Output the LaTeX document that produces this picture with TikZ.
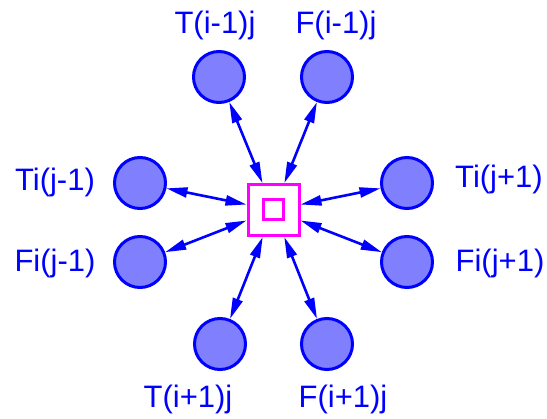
\documentclass[tikz,border=0pt]{standalone}
\usepackage{fontspec}
\setmainfont{Liberation Sans}
\usetikzlibrary{arrows.meta}
\definecolor{cblue}{HTML}{0000FF}
\definecolor{cfill}{HTML}{8080FF}
\definecolor{cmag}{HTML}{FF00FF}
\begin{document}
\begin{tikzpicture}[x=1pt,y=-1pt,
  port/.style={circle,draw=cblue,fill=cfill,line width=3pt,minimum size=51pt,inner sep=0pt},
  hub/.style={rectangle,draw=cmag,line width=3pt,minimum size=51pt,inner sep=0pt},
  hubin/.style={rectangle,draw=cmag,line width=3pt,minimum size=20pt,inner sep=0pt},
  lab/.style={text=cblue,font=\fontsize{31}{36}\selectfont,anchor=base,inner sep=0pt},
  link/.style={draw=cblue,line width=2.6pt,{Triangle[length=21pt,width=10pt]}-{Triangle[length=21pt,width=10pt]}}]
\useasboundingbox (0,0) rectangle (547,419);
\node[hub] (c) at (273.5,210) {};
\node[hubin] (ci) at (273.5,210) {};
\node[port] (tu) at (219,77) {};
\node[port] (fu) at (327,77) {};
\node[port] (tl) at (140,183) {};
\node[port] (fl) at (140,262) {};
\node[port] (tr) at (407,183) {};
\node[port] (fr) at (407,262) {};
\node[port] (td) at (220,344) {};
\node[port] (fd) at (327,344) {};
\node[lab] (ltu) at (215,34) {T(i-1)j};
\node[lab] (lfu) at (336,34) {F(i-1)j};
\node[lab] (ltl) at (55,191) {Ti(j-1)};
\node[lab] (lfl) at (55,272) {Fi(j-1)};
\node[lab] (ltr) at (499,188) {Ti(j+1)};
\node[lab] (lfr) at (500,272) {Fi(j+1)};
\node[lab] (ltd) at (188,408) {T(i+1)j};
\node[lab] (lfd) at (343,408) {F(i+1)j};
\foreach \p in {tu,fu,tl,fl,tr,fr,td,fd}{
  \draw[link] (\p) -- (c);
}
\end{tikzpicture}
\end{document}
